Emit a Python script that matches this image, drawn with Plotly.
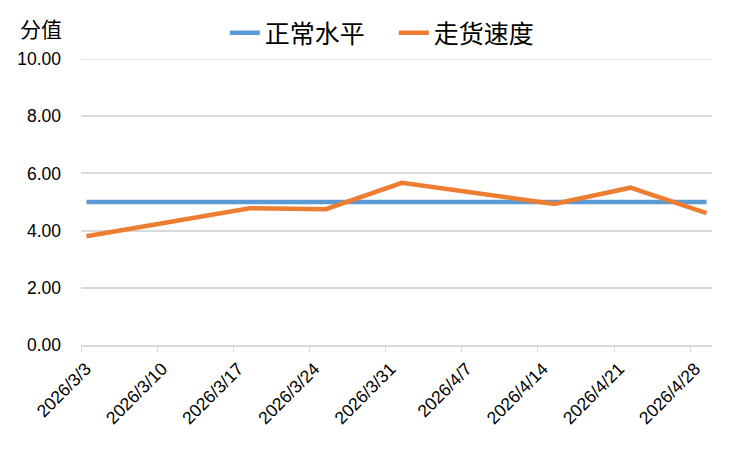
import pandas as pd
import plotly.graph_objects as go

# ---- data ----
dates = ["2026-03-03", "2026-03-18", "2026-03-25", "2026-04-01", "2026-04-15", "2026-04-22", "2026-04-29"]
normal_level = [5.0, 5.0, 5.0, 5.0, 5.0, 5.0, 5.0]
speed = [3.80, 4.78, 4.75, 5.67, 4.93, 5.50, 4.61]
tick_labels = ["2026/3/3", "2026/3/10", "2026/3/17", "2026/3/24", "2026/3/31",
               "2026/4/7", "2026/4/14", "2026/4/21", "2026/4/28"]
series_names = ["正常水平", "走货速度"]
y_title = "分值"

tick_dates = [pd.to_datetime(t, format="%Y/%m/%d") - pd.Timedelta(hours=12) for t in tick_labels]

BLUE = "#5B9BD5"
ORANGE = "#ED7D31"
GRID = "#D9D9D9"
NUM_FONT = "Liberation Sans, Arial, sans-serif"
CJK_FONT = "Noto Sans CJK SC, sans-serif"

# page body has an 8px default margin, so the figure is sized to fit the window
W, H = 742, 442
L, R, T, B = 73, 38, 51, 105
PH = H - T - B
PW = W - L - R

fig = go.Figure()
fig.add_trace(go.Scatter(x=pd.to_datetime(dates), y=normal_level, mode="lines", name=series_names[0],
                         line=dict(color=BLUE, width=4.5)))
fig.add_trace(go.Scatter(x=pd.to_datetime(dates), y=speed, mode="lines", name=series_names[1],
                         line=dict(color=ORANGE, width=4.5)))

fig.update_layout(
    width=W, height=H,
    margin=dict(l=L, r=R, t=T, b=B, autoexpand=False),
    paper_bgcolor="white", plot_bgcolor="white",
    showlegend=True,
    legend=dict(orientation="h", xref="container", yref="container",
                x=0.52, xanchor="center", y=1 - 25 / H, yanchor="middle",
                font=dict(family=CJK_FONT, size=25, color="#000000"),
                bgcolor="rgba(0,0,0,0)", entrywidth=124, traceorder="normal"),
    xaxis=dict(
        type="date", automargin=False,
        range=["2026-03-02 12:00", "2026-04-29 12:00"],
        tickmode="array", tickvals=tick_dates, ticktext=tick_labels,
        tickangle=-45, ticks="outside", ticklen=5, tickcolor=GRID, tickwidth=1,
        ticklabelshift=5,
        showline=True, linecolor=GRID, linewidth=1.5,
        showgrid=False, zeroline=False,
        tickfont=dict(family=NUM_FONT, size=17.5, color="#000000"),
    ),
    yaxis=dict(
        range=[0, 10], dtick=2, tick0=0, tickformat=".2f", automargin=False,
        showgrid=True, gridcolor=GRID, gridwidth=1.5,
        zeroline=False, showline=False, ticks="",
        ticklabelstandoff=19,
        tickfont=dict(family=NUM_FONT, size=17.5, color="#000000"),
    ),
    shapes=[dict(type="line", xref="paper", yref="y", x0=0, x1=1, y0=10, y1=10,
                 line=dict(color=GRID, width=1.5), layer="below")],
    annotations=[dict(text=y_title, xref="paper", yref="paper",
                      x=(10 - L) / PW, y=(H - B - 20) / PH,
                      xanchor="left", yanchor="middle", showarrow=False,
                      font=dict(family=CJK_FONT, size=21, color="#000000"))],
)

fig.write_html("out.html")
